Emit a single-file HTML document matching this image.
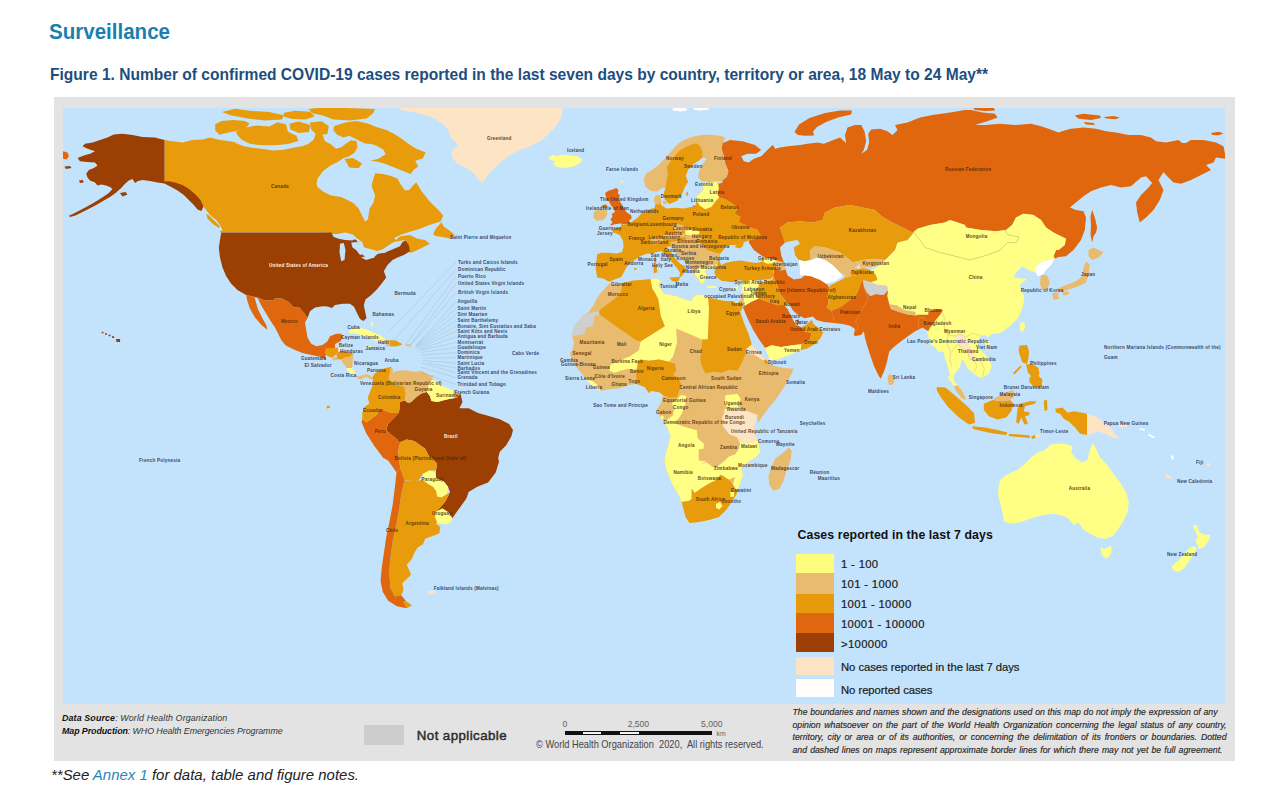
<!DOCTYPE html>
<html lang="en">
<head>
<meta charset="utf-8">
<title>Surveillance - Figure 1</title>
<style>
html,body{margin:0;padding:0;background:#fff;}
body{width:1288px;height:806px;position:relative;overflow:hidden;font-family:"Liberation Sans",sans-serif;}
.abs{position:absolute;white-space:nowrap;transform-origin:0 0;}
#h1{left:49.4px;top:19px;font-size:22.4px;line-height:26px;font-weight:bold;color:#1b7fae;transform:scaleX(0.917);}
#cap{left:49.9px;top:64.7px;font-size:15.7px;line-height:20px;font-weight:bold;color:#1d4e7e;transform:scaleX(0.992);}
#frame{position:absolute;left:53.5px;top:97.3px;width:1181.7px;height:663.5px;background:#e3e3e3;}
#map{position:absolute;left:63px;top:108px;width:1162px;height:596px;background:#c3e3fc;overflow:hidden;}
#map svg{position:absolute;left:-63px;top:-108px;}
#foot{left:51px;top:764px;font-size:15.4px;line-height:22px;font-style:italic;color:#222;transform:scaleX(0.972);}
#foot span{color:#2a86b8;}
.lg{font-size:11.3px;line-height:14px;color:#1a1a1a;letter-spacing:0.33px;-webkit-text-stroke:0.2px #1a1a1a;}
.lg.t{letter-spacing:-0.05px;}
.sw{position:absolute;left:796px;width:38px;}
.src{font-size:8.9px;line-height:10px;font-style:italic;color:#333;}
.src b{color:#111;}
.dis{font-size:8.7px;line-height:10px;font-style:italic;color:#262626;width:434px;white-space:normal;text-align:justify;text-align-last:justify;-webkit-text-stroke:0.15px #262626;}
svg text{font-family:"Liberation Sans",sans-serif;font-size:4.6px;font-weight:bold;fill:#4a2a08;opacity:.85;letter-spacing:0.2px;}
svg text.w{fill:#fff;opacity:.95;}
svg text.s{fill:#1c2c50;}
</style>
</head>
<body>
<div id="h1" class="abs">Surveillance</div>
<div id="cap" class="abs">Figure 1. Number of confirmed COVID-19 cases reported in the last seven days by country, territory or area, 18 May to 24 May**</div>
<div id="frame"></div>
<div id="map">
<svg width="1288" height="806" viewBox="0 0 1288 806">
<g id="land">
<path fill="#fde4c5" d="M400 107.5L562.5 107.5L562.5 112.5L560 120L555 127.5L547.5 135L540 141.2L530 146.2L520 150L512.5 153.8L505 158.8L497.5 165L491.2 171.2L486.2 177.5L482.5 183L478.8 180L475 175L470 170L462.5 166.2L456.2 162.5L452.5 157.5L451.2 152.5L453.8 148.8L457.5 146.2L456.2 142.5L452.5 140L450 135L447.5 128.8L442.5 123.8L435 118.8L425 115L412.5 112L400 110Z"/>
<path fill="#ffff85" d="M548.8 157.5L552.5 155L557.5 156.2L562.5 154.5L570 155.5L577.5 156.2L582.5 159.5L580 163L573.8 166.2L565 168L557.5 167L553 163.8L556.2 161.2L550 160Z"/>
<path fill="#e89c0c" d="M164.5 140L172.5 141.2L182.5 142.5L192.5 140L202.5 139.5L210 137.5L220 140L230 141.2L240 143L224.3 141.3L233.6 142.2L243 145.9L252.3 147.8L261.6 148.7L272.8 150.6L283.9 149.7L293.3 147.8L302.6 145.9L308.2 144.1L313.8 139.4L315.6 133.8L319.3 132L323.1 135.7L324.9 141.3L330.5 144.1L336.1 148.7L341.7 146.9L345.4 144.1L351 140.3L356.6 141.3L357.5 146.9L354.8 152.4L349.2 156.2L343.6 158L338 161.8L330.5 165.5L323.1 171.1L317.5 178.5L316.6 184.1L317.5 186.9L323.1 191.6L330.5 195.3L341.7 197.2L352.9 202.8L358.5 208.3L362.2 215.8L365 221.4L367.8 219.5L369.7 208.3L373.4 202.8L375.2 195.3L371.5 186L373.4 178.5L375.2 173.3L382.7 173.9L390.2 175.7L397.6 178.5L400.4 184.1L405.1 190.6L409.7 189.7L412.5 186L416.2 182.3L421.8 191.6L429.3 200.9L438.6 210.2L443.3 215.8L440.5 221.4L429.3 225.1L420 228.8L410.7 231.6L401.3 234.4L393.9 238.2L396.2 240L400 236.2L410 235L417.5 238.8L425 240L430 243.8L422.5 247.5L415 251.2L410 253L407.5 247.5L405 240L393.9 241.9L388.3 245.6L382.7 249.3L377.1 251.2L371.5 249.3L364.1 247.5L362.2 241.9L356.6 238.2L352.9 234.4L345.4 232.6L334.3 234.4L330.5 234.4L326.8 232.6L315.6 232.2L218.7 232.2L222.5 230L220 225L216.2 220L210 215L206.2 210L202.5 205L200 207.5L196.2 203.8L191.2 198.8L186.2 193.8L180 188.8L172.5 184.5L164.5 182ZM215.2 124.3L221.5 121.1L233.9 120.1L244.4 121.1L249.6 123.2L246.4 127.4L238.2 130.5L227.6 132.7L219.3 134.7L215.2 130.5ZM235.8 131.7L246.2 127.4L256.8 125.4L269.2 126.4L277.6 122.3L285.9 124.3L288 131.7L296.4 135.8L298.4 141L288 144.1L275.5 145.2L262.9 145.2L250.5 144.1L242.1 140L237.9 135.8ZM222 112L234.9 108.8L252 111L269.2 112L284.1 115.3L282 119.5L264.8 120.6L247.7 118.5L230.5 115.3ZM283.4 112.9L294.5 110.7L310.3 111.8L314.7 116.3L305.7 119.6L292.4 119.1L284.5 117ZM308.4 109.1L325.1 107L345.9 108.1L375.1 109.1L373.1 113.3L366.8 118.6L350.1 120.6L333.5 119.6L322.9 115.4L312.5 113.3ZM289.4 123.8L298.8 121.4L310.4 124.9L309.1 131.9L298.8 133.1L290.5 129.6ZM310 122.5L321.7 121.2L328.7 126L327.5 134.1L317 135.2L311.2 129.5ZM334.3 126L345.4 122.6L356.6 121.1L367.8 123.6L377.1 127.3L386.4 130.1L393.9 133.8L401.3 138.5L408.8 144.1L416.2 148.7L425.6 152.4L422.8 158.4L415.3 160.8L418.1 166.4L413.4 170.1L410.7 173.9L402.3 170.7L393 167L383.6 163.3L376.2 161.4L370.6 160.8L379 158.4L385.5 154.3L383.6 149.7L377.1 145.9L371.5 144.1L365 143.5L360.3 141.3L354.8 138.5L349.2 135.7L343.6 137.5L337 134.7L333.3 130.1ZM344.5 159L352.9 158L362.2 163.6L358.5 168.3L349.2 167.4ZM441.4 222.3L444.2 227L449.8 230.7L454.4 234.4L451.6 239.1L444.2 237.2L436.7 236.3L433 234.4L435.8 228.8ZM206.2 213.8L210 216.2L216.2 222.5L220 226.2L218.8 228L212.5 223.8L207.5 218.8Z"/>
<path fill="#9b3f03" d="M164.5 140L155 137.5L142.5 137L132.5 135L122.5 133.8L113.8 134.5L107.5 137.5L100 140L92.5 142.5L85 143.8L82.5 146.2L87.5 148.8L91.2 150L95 151.2L90 153.8L83.8 155.5L77.5 158L80 161.2L87.5 162L95 162.5L97.5 165.5L93.8 168L88.8 170L86.2 173.8L87.5 177.5L90 180.5L95 182.5L97.5 185.5L101.2 184.5L106.2 185.5L110 187L112.5 189L108.8 193L103 197L97.5 200.5L92 203.8L86.2 207L80 210.2L73.8 213.5L68.8 215.8L70 217L75.5 215.5L82.5 212L89.5 208.5L96.2 205L103 201L110 197L116.2 192.5L121.2 188L125 183.8L128.8 180.5L132.5 179L135 183L138 181L142.5 180L150 181L157.5 182.5L164.5 183.5L171.2 187L177.5 190.5L183.8 195L188.8 200L193.8 205L197.5 209.5L201.5 211L203.5 206.5L200.5 200L195.5 194.5L189 189L182.5 185L175 182.5L168.8 181.2L164.5 181.5ZM120 193L125.5 192L127.5 194.5L122.5 196.5ZM64.5 166.5L70 166L71.5 168L66 169ZM79 180.5L83 180L83.5 182.5L80 183Z"/>
<path fill="#e0670d" d="M63 151.2L67.5 152.5L69 156.2L66.5 159.5L63 158.8Z"/>
<path fill="#9b3f03" d="M221.2 232.5L331.2 232.5L335 235.5L342.5 238L350 237.5L356.2 240L360 245L363.8 251.2L362.5 255L367.5 257.5L375 256.2L378.8 253L386.2 252L391.2 250L400 246.2L402.5 242L405.5 240.5L408.8 245L410 251.2L403.8 255L397.5 257.5L392.5 260L387.5 265L383.8 271.2L386.2 277.5L382.5 282.5L377.5 288.8L371.2 295L365.5 299.5L363.8 305L365 311.2L366.5 318L363.5 321L360 319L357 313L354 306.8L350 303.8L342.5 303.8L335 305L332 308L327.5 306.5L322.5 306.2L315 307.5L310 311.2L307.5 318L303.8 312.5L298.8 307L293.8 307.5L288.8 302L282.5 298.8L275 298L273.8 300.5L265 300.5L257.5 297.5L246.2 295L237.5 290L231.2 283.8L226.2 276.2L222.5 267.5L220 257.5L218.8 247.5L220 240Z"/>
<path fill="#c3e3fc" d="M331.8 233.8L340 234.5L350 235.5L356.2 238L352.5 240.5L345 240L338.8 238.8L333.8 237ZM340 243.8L343.8 243L345.5 250L344.5 260L341.2 261.2L339.5 252.5ZM351.2 242.5L357.5 242L363.8 247.5L365 253.8L360 255L356.2 250L352.5 247.5ZM361.2 257.5L367.5 255.5L375 255L374.5 257.5L366.2 260ZM376.2 251.2L385 250L386.2 252.5L378 253.8Z"/>
<path fill="#e0670d" d="M246.2 295L257.5 297.5L265 300.5L273.8 300.5L275 298L282.5 298.8L288.8 302L293.8 307.5L298.8 307L303.8 312.5L307.5 318L305 322.5L306.2 330L307.5 337.5L311.2 343.8L316.2 346.2L322.5 345L327.5 341.2L330 336.2L336.2 333.8L341.2 333.8L343 337L340.5 341.2L337 343L335 344.2L335 348.8L330 350L326.2 353.8L325 359L318.8 356.5L311.2 355L302.5 353L293.8 349.5L285.8 345.5L281.5 340.5L278.8 335L275 327.5L270 320L265.5 312.5L261 305L258 298.5L254.5 297L257.8 308.8L262 317.5L266.2 325L267.5 330L261.5 325L254.8 317.2L249.8 308.2L247.2 300.5Z"/>
<path fill="#e89c0c" d="M325.6 348.4L338 347.4L338 352L336.5 354.3L331.8 357.8L327.2 355.9L324.8 352.8Z"/>
<path fill="#fde4c5" d="M338.2 345L340.7 344.7L340.7 350.5L338.2 351.6Z"/>
<path fill="#e89c0c" d="M338 352L341.9 351.2L348.1 352L353.6 353.6L350.5 356.7L345 357.8L341.1 359.8L337.3 359L336.5 354.3Z"/>
<path fill="#e9bb6e" d="M331.1 357.8L336.5 357.1L337.6 359.8L333.4 360.6ZM341.1 359.8L345 357.8L350.5 356.7L353.6 353.6L352.8 360.6L352 368.3L346.6 368L343.5 363.7Z"/>
<path fill="#ffff85" d="M346.6 368L352 368.3L355.1 373L354.3 375.3L350.5 373.8L347.4 370.7Z"/>
<path fill="#e9bb6e" d="M354.7 374.8L358.2 376.4L362.1 375.3L366.8 374.2L370.7 375.8L373 378.4L370.7 379.5L367.5 377.3L363.7 377.6L361.3 379.5L357.5 378.4Z"/>
<path fill="#ffff85" d="M349.1 330.7L354.3 328.1L362.4 328.4L369.1 330.6L375.3 333.5L381.5 336L385.1 338.8L383.9 341.3L378.4 341.3L373 339.8L369.3 338.2L364.6 336.6L359.9 334.5L354.3 333.5L349.7 333.2ZM366.5 346.3L370.7 346L372.7 347.5L369.1 348.1Z"/>
<path fill="#e9bb6e" d="M383.9 340.7L389.8 340.1L389.8 346.3L384.6 346.3L387 344.3L384.2 343.2Z"/>
<path fill="#e89c0c" d="M389.8 340.1L396.3 340.7L402.5 344.3L397.8 346.3L393.2 346.6L389.8 346.3Z"/>
<path fill="#e9bb6e" d="M405.9 344.4L410.9 344.4L410.9 346.3L405.9 346.3Z"/>
<path fill="#ffff85" d="M370.7 321.7L372.2 321.4L373 325.6L371.4 326.1Z"/>
<path fill="#9b3f03" d="M101.6 331.87L103.4 331.87L103.49 333.22L101.78 333.22ZM105 333.3L107 333.3L107.1 334.8L105.2 334.8ZM108.5 334.8L110.5 334.8L110.6 336.3L108.7 336.3ZM111.9 336.23L114.1 336.23L114.21 337.88L112.12 337.88ZM116 339.1L120 339.1L120.2 342.1L116.4 342.1ZM399.6 402.1L405 400.6L408.1 402.9L411.2 402.1L415.9 397.5L421.3 393.6L426.8 392L429.9 395.9L431.4 400.9L437.6 402.1L443.9 400.2L450.1 398.7L453.9 398.2L459.4 393.6L460.6 394.3L462.5 402.1L459.4 408.3L468.7 408.3L478 413L488.9 416.1L499.8 419.2L509.1 423.9L513 430.1L511.4 436.3L506 445.6L499.8 451.8L498.2 458L499 461.7L495.7 472.6L488.1 482.4L477.3 486.7L468.6 492.1L466.4 498.6L457.7 510.6L452.3 518.2L449 512.8L442.5 508.4L436 511.7L440.4 507.3L445.8 500.8L450.1 492.1L448 486.7L443.6 481.3L436 478L436 470.4L437.1 463.9L431.7 457.4L429.9 458L425.2 448.7L414.3 440.9L406.6 439.4L399.6 442.5L397.3 439.4L391.1 434.7L386.4 430.1L388 423.9L398.8 413L399.6 408.3Z"/>
<path fill="#e0670d" d="M362.3 419.2L361.6 422.3L366.2 433.2L374 445.6L383.3 458L388.2 460.6L394.3 469.3L396.5 472.6L400.4 468.7L399.1 459.5L398.2 450.9L400.2 442.2L399.6 442.5L397.3 439.4L391.1 434.7L386.4 430.1L388 423.9L398.8 413L391.1 413L383.3 409.9L379.4 408.3L377.1 414.5L370.9 419.2L366.2 422.3Z"/>
<path fill="#e89c0c" d="M362.3 413L364.7 406.8L369.3 403.7L374 403.7L379.4 408.3L377.1 414.5L370.9 419.2L366.2 422.3L362.3 419.2ZM369.3 403.7L367.8 397.5L370.9 389.7L373.2 383.5L372.4 377.3L374.8 373.4L383.3 368.7L391.1 366.7L390.3 371.1L388.7 378.8L395.7 384.3L404.3 386.6L405.8 392.8L405 400.6L399.6 402.1L399.6 408.3L398.8 413L391.1 413L383.3 409.9L379.4 408.3L374 403.7Z"/>
<path fill="#e9bb6e" d="M391.1 366.7L390.3 371.1L388.7 378.8L395.7 384.3L404.3 386.6L405.8 392.8L405 400.6L408.1 402.9L411.2 402.1L415.9 397.5L421.3 393.6L426.8 392L428.3 386.6L429.9 382.7L433 378.8L428.3 374.2L422.1 371.1L414.3 371.8L406.6 370.3L395.7 371.1L392.6 373.4L393.4 369.5Z"/>
<path fill="#ffff85" d="M429.9 381.9L433 379.6L437.6 384.3L443.9 386.6L453.2 390.5L453.9 398.2L450.1 398.7L443.9 400.2L437.6 402.1L431.4 400.9L429.9 395.9L426.8 392L428.3 386.6Z"/>
<path fill="#e9bb6e" d="M453.2 390.5L457 392L460.2 393.6L457 397.8L453.9 398.2Z"/>
<path fill="#e89c0c" d="M399.6 442.5L406.6 439.4L414.3 440.9L425.2 448.7L429.9 458L431.7 457.4L437.1 463.9L436 470.4L429.5 470.4L423 473.7L418.6 480.2L413.2 481.3L406.7 480.2L404.5 480.2L400.4 468.7L399.1 459.5L398.2 450.9L400.2 442.2Z"/>
<path fill="#ffff85" d="M423 473.7L429.5 470.4L434.9 472.6L436 478L443.6 481.3L448 486.7L446.9 494.3L441.4 497.6L437.1 496.5L436 491L432.8 486.7L427.3 483.4L423 480.2ZM436 511.7L442.5 508.4L449 512.8L452.3 518.2L450.1 523L443.6 524.3L437.1 522.5L434.9 517.1Z"/>
<path fill="#e89c0c" d="M404.5 480.2L413.2 481.3L418.6 480.2L423 480.2L427.3 483.4L432.8 486.7L436 491L437.1 496.5L441.4 497.6L446.9 494.3L450.1 492.1L445.8 500.8L440.4 507.3L436 511.7L434.9 517.1L437.1 522.5L436 523.6L440.4 526.9L439.3 533.4L433.8 535.6L425.2 538.8L423 544.3L417.6 547.5L414.3 552.9L412.1 558.4L406.7 564.9L408.9 569.2L411 574.7L406.7 579L402.4 583.3L403.4 589.9L401.3 595.3L394.8 596.4L390.4 587.7L389.3 572.5L390.4 557.3L392.6 542.1L395.8 526.9L399.1 509.5L401.3 494.3ZM405.6 600.7L412.1 605.5L406.7 608.3L403.4 601.8Z"/>
<path fill="#e0670d" d="M396.5 472.6L400.4 468.7L404.5 480.2L401.3 494.3L399.1 509.5L395.8 526.9L392.6 542.1L390.4 557.3L389.3 572.5L390.4 587.7L394.8 596.4L401.3 595.3L405.6 600.7L403.4 601.8L406.7 608.3L396.9 606.2L388.2 600.7L382.8 592L380.6 581.2L381.7 568.1L383.9 552.9L386.1 537.7L389.3 522.5L392.6 505.2L394.8 487.8Z"/>
<path fill="#fde4c5" d="M427.3 591L434.9 590.5L435.6 593.8L428.4 594.2Z"/>
<path fill="#e9bb6e" d="M430.7 375.4L433 375.1L433 377L430.8 377.3Z"/>
<path fill="#e89c0c" d="M326.5 406L329.5 405.6L330 408L327 408.6Z"/>
<path fill="#e0670d" d="M721.2 143.8L730 140L742.5 141.2L755 145L761.2 150L756.2 153.8L747.5 153.8L741.2 156.2L743.8 161.2L748.8 162.5L753.8 158.8L761.2 156.2L766.2 151.2L771.2 146.2L773 145L775 148.8L780 147.5L787.5 146.2L800 145L807.5 143.8L817.5 142.5L823.8 143.8L830 141.2L840 137.5L845 142L846.2 143.8L845 135L847.5 127.5L855 125L861.2 125L864.5 131.2L866.2 141.2L863.8 150L861.2 153.8L867 150L869.2 142.5L868.2 133.8L871.2 129.5L880 128.8L887.5 131.2L892.5 135L897.5 130L895 125L907.5 122.5L920 117.5L932.5 115L950 112.5L965 110L971.2 110L982.5 112.5L995 113.8L997.5 117.5L987.5 121.2L975 125L985 125L1000 123.8L1015 125L1031 123.8L1041 126.2L1048.5 128.8L1058.5 132.5L1066 130L1071 128.8L1083.5 127.5L1096 128.8L1106 131.2L1116 132.5L1128.5 135L1141 135L1151 137.5L1156 141.2L1166 142.5L1178.5 140L1182.2 143L1186 143L1191 140L1203.5 140L1216 142.5L1223.5 146.2L1225 153.8L1225 158.8L1216 157.5L1213.5 162.5L1206 165L1211 170L1201 175L1191 180L1181 183.8L1173.5 182.5L1166 175L1163.5 172L1158.5 180L1163.5 190L1159.8 200L1153.5 210L1146 217.5L1139.8 222.5L1137.2 212.5L1136 202.5L1141 195L1148.5 187.5L1152.2 183L1146 176.2L1141 177.5L1131 186.2L1121 187.5L1111 185L1101 187.5L1091 191.2L1083.5 196.2L1076 202.5L1069.8 207.5L1076 210L1083.5 211.2L1086 217.5L1084.8 230L1081 240L1073.5 250L1066 256.2L1058.5 257L1054.8 258.8L1053.5 256.2L1056 250L1058.5 250L1064.8 245L1066 238.8L1061 236.2L1053.5 232.5L1046 227.5L1041 220L1033.5 215L1023.5 213.8L1016 217.5L1012.2 225L1006 230L996 231.2L981 230L966 227.5L965 225L950 220L945 222.5L930 225L917.5 228.8L912.5 232.5L907.5 230L897.5 225L887.5 220L880 215L875 210L862.5 207.5L850 205L835 207.5L825 212.5L822.5 220L812.5 222.5L800 221.2L787.5 222.5L780 227.5L782.5 235L785 242.5L780 247.5L781.2 255L783.8 262.5L775 260L765 257.5L762.5 256.2L753.8 250L748.8 242.5L751.2 235L750 228.8L742.5 225L735 220L727.5 210L739.3 216.3L734.6 213.2L737.7 208.5L733 203.9L725.3 199.2L719.1 197.6L717.5 194.5L718.3 188.3L719.1 183.7L723.7 182.1L721.4 181.3L726.8 176.7L728.4 171.2L725.3 163.5L723.7 155.7L721.4 148L723 141.7L725.3 137.9ZM794.5 132L799 124.5L809.5 118L825 113L840 110.5L852 110.5L851 114.5L838 117.5L826 122L817 127L813 131.5L814 135.5L805 135.8L798 135ZM1092.2 210L1094.8 217.5L1097.2 227.5L1096 232.5L1093.5 236.2L1092.2 242.5L1090.5 235L1091 225L1090.5 216.2ZM1074.8 115.5L1083.5 113.8L1099.8 115.5L1101 118L1091 120L1078.5 118.8ZM1104 117L1113.5 116L1119.8 117.5L1116 119.2L1106 118.5ZM1083.5 122L1093.5 123L1094.8 125L1086 124.5ZM1211 133L1218.5 131.8L1223.5 133.2L1219 135.2L1212.2 135ZM972.5 107L982.5 105.5L993.8 107.5L995 110.5L985 111L975 110ZM692.7 205.7L698.9 205.1L699.7 207.7L693.4 208.5Z"/>
<path fill="#e9bb6e" d="M650.7 190.7L645.3 186.8L643.8 179L646.1 173.6L652.3 169.7L658.5 165L664.7 158.8L669.4 153.4L674 148L678.7 143.3L684.9 139.4L694.2 136.3L703.5 134.8L712.9 134.8L722.2 136.3L725.3 137.9L723 141.7L721.4 148L723.7 155.7L725.3 163.5L728.4 171.2L726.8 176.7L721.4 181.3L716 180.9L709.8 182.1L702 181.3L698.1 177.5L698.9 171.2L702 165L706.6 158.8L702.8 157.3L698.9 160.4L694.2 163.5L688 169.7L685.7 175.9L688 182.1L684.9 186.8L681.8 194.5L677.1 200.7L669.4 203.9L664.7 199.2L663.9 193L665.5 188.3L663.2 187.5L657 191.4Z"/>
<path fill="#e89c0c" d="M669.4 203.9L677.1 200.7L681.8 194.5L684.9 186.8L688 182.1L685.7 175.9L688 169.7L694.2 163.5L698.9 160.4L702.8 157.3L702 151.1L700.4 146.4L696.6 143.3L691.1 144.8L684.9 147.2L680.2 150.3L675.6 154.9L670.9 161.1L667 166.6L667.8 174.3L666.3 182.1L665.5 188.3L663.9 193L664.7 199.2ZM686.1 192.7L688 191.7L688.3 195.3L686.5 196.1Z"/>
<path fill="#e0670d" d="M616.2 188L618.5 189.9L617.7 193.6L620 195.1L618.5 198.8L620 201.8L622.2 204.8L623.7 208.5L626.7 212.2L631.1 215.2L631.7 218.2L628.9 221.1L629.6 223.4L625.2 224.3L620 223.5L614.8 224.3L609.9 225.7L612.5 221.9L610.3 219.6L612.5 216.7L611.8 213.7L614.8 212.2L614 208.5L611 205.5L609.6 202.5L607.3 200.3L605.8 196.6L605.1 192.9L608.8 190.6L612.5 189.5ZM602.3 205.1L606.2 204.6L607.5 207L605.8 208.6L602.5 208.3Z"/>
<path fill="#e9bb6e" d="M602.1 208.5L606.6 210L607.3 213.7L605.8 217.4L602.1 220.4L596.2 220.4L593.2 217.4L593.9 212.2L597.6 209.2Z"/>
<path fill="#e0670d" d="M621.3 181.2L622.4 181.2L622.4 182.3L621.3 182.3Z"/>
<path fill="#ffff85" d="M620.9 180.9L622.8 180.6L623.1 182.4L621.2 182.7Z"/>
<path fill="#e89c0c" d="M656.2 195.3L660.1 196.1L660.8 200.7L660.8 204.6L666.3 208.5L675.6 207.7L683.4 208.5L691.1 207L695.8 206.2L696.6 200.7L696.6 196.1L700.4 193L703.5 189.1L702 185.2L705.1 182.9L717.5 182.1L719.1 183.7L718.3 188.3L717.5 194.5L719.1 197.6L725.3 199.2L733 203.9L737.7 208.5L734.6 213.2L739.3 216.3L740.8 215.5L739.3 221.7L748.6 226.4L757.9 229.5L761 235.7L753.2 239.6L748.6 240.7L743.9 242.2L742.7 246.6L739.3 248.4L734.6 246.9L736.9 245L733 245L726.8 245L723.7 249.7L719.8 254.3L719.1 260.6L721.4 265.2L717.5 267.1L712.9 268.6L708.2 268.6L705.4 271.4L707 276.1L705.1 280.7L702 284.2L700.1 282.3L697.3 277.6L694.2 274.5L692.7 269.9L689.6 265.2L683.4 260.6L677.1 254.3L672.5 249.7L670.9 246.6L667 246.6L669.4 250.5L672.5 254.3L675.6 259L680.2 263.7L685.2 266.5L684.9 268.3L689.6 272.7L688 271.1L684.9 271.7L681.8 276.1L679.9 277.6L677.5 280.3L679 277.6L680.2 273L677.1 268.3L673.3 263.7L669.4 259L664.7 254.3L661.6 251.2L657 252L652.3 253.6L647.6 253.6L643 255.1L639.1 256.7L635.2 259.8L631.3 262.1L626.7 266.8L624.3 271.4L621.2 276.9L615 279.2L609.6 281.7L607.3 280.7L603.4 278.4L597.2 277.6L596.4 273L595.6 266.8L596.4 260.6L597.2 254.3L601.1 252.8L608.8 252.8L616.6 253.6L622 252L623.6 246.6L622.8 240.4L619.7 234.9L613.5 232.6L611.1 229.5L615 228.7L621.2 227.2L621.2 223.6L623.6 224.8L629 223.3L635.2 219.4L638.3 217.1L643 211.6L647.6 210.1L654.6 207.7L655.4 203.9L653.9 199.2Z"/>
<path fill="#ffff85" d="M705.1 182.9L717.5 182.1L718.8 188.3L717.5 194.5L719.1 197.6L716 200.7L711.3 207L705.1 209.3L699.7 205.4L696.6 200.7L696.6 196.1L700.4 193L703.5 189.1L702 185.2Z"/>
<path fill="#e9bb6e" d="M656.2 195.3L660.1 196.1L660.8 200.7L659.3 204.6L655.4 203.9L653.9 199.2ZM662.4 201.1L666.6 200.7L667 203.9L663.2 204.2ZM671.7 225.6L678.7 224.1L685.7 226.4L689.6 228.7L684.9 231.1L678.7 231.8L674 230.3Z"/>
<path fill="#ffff85" d="M684.9 231.1L689.6 229.5L698.9 231.1L699.7 233.4L692.7 235.7L685.7 234.9Z"/>
<path fill="#e9bb6e" d="M663.2 234.9L670.9 233.4L678.7 232.6L684.9 233.4L685.7 236.5L678.7 238.8L670.9 238.8L663.2 238ZM685.7 235.7L692.7 235.7L700.4 234.2L703.5 237.3L698.9 241.1L691.1 242.7L685.7 240.4ZM650.7 239.6L657 238L663.2 238.8L662.4 242.7L654.6 244.3L650.7 242.7ZM670.9 241.9L678.7 240.4L685.7 240.7L691.1 243L698.9 241.6L703.5 245L706.6 249.7L712.9 252L719.8 253.6L719.4 260.6L717.5 263.7L712.1 265.2L706.6 266L702 266.8L697.3 268.3L694.2 274.5L692.7 269.9L689.6 265.2L683.4 260.6L677.1 254.3L672.5 249.7L670.6 246.6Z"/>
<path fill="#ffff85" d="M694.2 274.5L697.3 268.3L702 267.1L706.6 266L712.1 265.2L717.5 264L717.5 267.1L712.9 268.6L708.2 268.6L705.4 271.4L707 276.1L705.1 280.7L702 284.2L700.1 282.3L697.3 277.6Z"/>
<path fill="#e89c0c" d="M653.9 257.8L655.9 257.1L656.3 262.9L654.5 264ZM653.2 264.9L656.6 264.4L657.3 272.2L653.9 273.3ZM669.4 277.6L678.7 276.9L679.6 279.2L677.1 282.3L671.7 280.7Z"/>
<path fill="#ffff85" d="M706.6 286.3L716 285.9L716.3 287.7L707.4 288.2ZM731.5 287.7L738.5 286.3L737.7 289.3L732.7 290.1Z"/>
<path fill="#e89c0c" d="M634 268.3L636.5 268L636.8 269.6L634.3 269.9Z"/>
<path fill="#ffffff" d="M672 106L686 106L687 110.6L680 111.4L673 110.4ZM693 106L708 106L709 109.6L700 110.4L694 109.8Z"/>
<path fill="#e9bb6e" d="M608.8 283.9L616.6 284.6L622.8 283.1L632.1 280.7L641.4 280L650.7 279.2L654.6 278.4L659.3 279.2L660.8 280L658.5 285.4L661.6 290.1L663.2 293.2L669.4 294.7L677.1 296.3L684.9 299.4L691.1 300.9L694.2 296.3L695.8 294.7L702 294.7L708.2 297L716 299.4L725.3 300.9L733 300.9L736.9 304L739.7 310.2L743.7 322.3L748.7 334.4L751.8 344.5L758.8 352.6L765.9 359.6L767.9 361.7L770.9 364.7L782 367.7L793.2 368.7L794.2 367.7L790.1 376.8L784.1 386.9L776 399L767.9 409.1L761.9 417.2L757.8 423.2L757.3 414.1L752.2 420.2L754.2 426.2L755.2 434.3L757.3 440.4L759.3 445.4L760.3 452.5L755.2 457.5L747.2 462.6L741.1 468.6L743.1 474.7L741.1 480.7L738.1 488.8L736.1 494.9L731 503L726 510L718.9 517.1L708.8 520.1L698.7 522.1L689.6 523.1L685.6 517.1L683.6 509L681.6 501.9L678.5 494.9L672.5 484.8L667.4 472.7L664.4 462.6L665.4 454.5L668.4 444.4L670.5 436.3L667.4 428.3L663.4 420.2L660.4 418.2L656.3 408.1L656.9 409.1L655.9 411.1L660.9 403L663 395L658.9 391.9L650.8 390.9L648.8 393L644.8 386.9L636.7 383.9L628.6 384.9L620.6 387.9L610.5 388.9L600.4 390.9L598.4 389.9L590.3 383.9L584.2 376.8L579.2 370.7L575.1 364.7L571.1 358.6L570.1 352.6L572.1 350.6L574.1 342.5L572.1 336.4L574.1 326.3L584.2 314.2L584 318L588.6 311.8L593.3 305.6L596.4 299.4L600.3 293.2L604.9 288.5Z"/>
<path fill="#e89c0c" d="M736.9 304L739.3 301.7L741.6 299.4L742.7 307.1L740.8 311.8Z"/>
<path fill="#cfcfcf" d="M585.2 313.8L599.4 311.2L599.4 315.2L594.3 316.2L593.3 326.3L586.2 327.3L584.2 334.4L572.5 336L574.1 326.3Z"/>
<path fill="#e89c0c" d="M599.4 310.2L610.5 302.1L620.6 294L622.8 283.1L632.1 280.7L641.4 280L650.7 279.2L651.5 283.9L652.3 288.5L655.4 293.2L658.5 299.4L660.9 316.2L665 326.3L648.8 336.4L640.7 341.5L636.7 340.5L620.6 329.4L599.4 314.2Z"/>
<path fill="#ffff85" d="M650.7 279.2L654.6 278.4L659.3 279.2L660.8 280L658.5 285.4L661.6 290.1L663.2 293.2L660.8 295.5L658.5 299.4L655.4 293.2L652.3 288.5L651.5 283.9ZM663.2 293.2L669.4 294.7L677.1 296.3L684.9 299.4L691.1 300.9L694.2 296.3L695.8 294.7L702 294.7L708.2 297L709 308.7L708.5 324.2L707.8 339.5L702.3 339.5L676.1 328.4L665 326.3L660.9 316.2L658.5 299.4L660.8 295.5ZM640.7 341.5L648.8 336.4L665 326.3L676.1 328.4L677.1 342.5L673 356.6L669 361.7L658.9 359.6L648.8 360.7L640.7 359.6L636.7 362.7L629.6 356.6L638.7 350.6ZM609.5 370.7L610.5 364.7L618.5 360.7L629.6 356.6L636.7 362.7L639.7 366.7L632.7 370.7L628.6 368.7L620.6 370.7L614.5 372.8Z"/>
<path fill="#e89c0c" d="M637.7 362.7L640.7 359.6L648.8 360.7L658.9 359.6L669 361.7L675.1 363.7L676.1 370.7L673 374.8L679.1 378.8L681.1 384.9L679.1 390.9L677.1 397L669 398L663 395L658.9 391.9L650.8 390.9L648.8 393L644.8 386.9L636.7 383.9L636.3 374.8Z"/>
<path fill="#ffff85" d="M586.2 379.8L592.3 380.8L599.4 386.9L600.4 390.9L598.4 389.9L590.3 383.9Z"/>
<path fill="#e89c0c" d="M708.2 297L716 299.4L725.3 300.9L733 300.9L736.9 304L739.7 310.2L743.7 322.3L748.7 334.4L751.8 344.5L746.7 348.5L744.7 356.6L741.7 362.7L737.6 370.7L729.6 369.7L721.5 372.8L713.4 371.8L705.3 373.2L701.3 364.7L700.3 358.6L701.3 350.6L702.3 339.5L707.8 339.5L708.5 324.2L709 308.7Z"/>
<path fill="#fde4c5" d="M751.8 344.5L758.8 352.6L765.9 359.6L762.9 360.2L753.8 354.6L746.7 354.2L746.7 348.5Z"/>
<path fill="#e89c0c" d="M765.9 359.6L767.9 361.7L768.9 364.3L764.9 363.7L763.9 360.7Z"/>
<path fill="#ffff85" d="M725.5 395L737.6 394L740.7 399L737.6 407.1L727.5 408.1L724.5 403ZM724.5 409.1L730.6 409.1L731.6 419.2L725.5 419.2Z"/>
<path fill="#c3e3fc" d="M731.6 408.1L739.7 407.1L741.7 413.1L735.6 416.2L731.6 413.1Z"/>
<path fill="#ffff85" d="M672 403L676.1 400L681.1 395L686.2 396L685.2 405.1L682.1 413.1L678.1 419.2L670 424.2L665 423.2L668 419.2L673 415.2L674.1 409.1Z"/>
<path fill="#fde4c5" d="M725 411.1L733 408.1L745.2 410.1L757.3 415.1L754.2 426.2L755.2 434.3L757.3 440.4L745.2 443.4L739.1 440.4L737.1 437.3L729 434.3L723 426.2L721.9 418.2Z"/>
<path fill="#ffff85" d="M663.4 420.2L670.5 421.2L682.6 426.2L696.7 430.3L697.7 438.4L703.8 443.4L703.8 448.4L698.7 449.5L698.7 460.6L689.6 462.6L664.8 463.6L664.4 462.6L665.4 454.5L668.4 444.4L670.5 436.3L667.4 428.3ZM660.4 416.1L663.4 415.7L663.4 419.2L661 419.2ZM664.8 463.6L689.6 462.6L698.7 460.6L706.8 461.6L699.7 464.6L695.7 466.6L694.7 480.7L691.7 481.8L691.7 498.9L688.6 500.9L681.6 501.9L678.5 494.9L672.5 484.8L667.4 472.7ZM695.7 466.6L699.7 464.6L706.8 462.6L714.9 468.6L720.9 474.7L714.9 480.7L708.8 483.8L700.7 488.8L694.7 492.9L691.7 488.8L691.7 481.8L694.7 480.7ZM714.9 468.6L725 460.6L735.1 462.6L738.1 468.6L735.1 476.7L729 479.7L720.9 474.7ZM738.1 488.8L741.1 480.7L743.1 474.7L741.1 468.6L747.2 462.6L755.2 457.5L760.3 452.5L759.3 445.4L757.3 440.4L745.2 443.4L739.1 440.4L737.1 437.3L740.1 443.4L739.1 448.4L735.1 454.5L729 456.5L725 460.6L735.1 462.6L738.1 468.6L735.1 476.7L733 484.8L736.1 489.8Z"/>
<path fill="#e89c0c" d="M681.6 501.9L688.6 500.9L691.7 498.9L691.7 488.8L694.7 492.9L700.7 488.8L708.8 483.8L714.9 480.7L720.9 474.7L729 479.7L733 484.8L736.1 489.8L738.1 488.8L736.1 494.9L731 503L726 510L718.9 517.1L708.8 520.1L698.7 522.1L689.6 523.1L685.6 517.1L683.6 509Z"/>
<path fill="#ffff85" d="M715.9 504L719.9 501.9L722.5 506L719.3 509.4L716.1 508ZM730.2 492L733.9 491.8L734.3 496.5L730.6 496.9Z"/>
<path fill="#e9bb6e" d="M769.4 484.8L768.4 476.7L771.4 466.6L775.4 458.5L783.5 452.5L788.6 447.4L791.6 450.5L790.6 460.6L786.5 470.7L783.5 480.7L779.5 488.8L773.4 490.8Z"/>
<path fill="#ffff85" d="M913.8 232.5L917.5 228.8L930 225L945 222.5L950 220L965 225L966 227.5L981 230L996 231.2L1006 230L1012.2 225L1016 217.5L1023.5 213.8L1033.5 215L1041 220L1046 227.5L1053.5 232.5L1061 236.2L1066 238.8L1064.8 245L1058.5 250L1056 250L1053.5 256.2L1054.8 258.8L1048.5 260L1041 262.5L1034.8 267.5L1036 272.5L1028.5 270L1022.2 266.2L1016 272.5L1013.5 277.5L1023.5 278.8L1027.2 278.8L1019.8 285L1022.2 292.5L1024.4 295.9L1023.5 303.4L1021.6 310.8L1017.9 318.3L1010.4 325.7L1003 331.3L999.3 333.2L991.8 334.1L988.1 336.9L984.3 335L980.6 336L976.9 342.5L980.6 349.9L986.2 355.5L989.9 361.1L991.8 366.7L988.1 374.2L982.5 377.9L978.8 377L973.2 373.2L967.6 368.6L963.9 361.1L962 359.3L960.1 366.7L954.5 374.2L952.7 381.6L954.5 389.1L951.2 372.5L955 382.5L957.5 385L962.5 391.2L966.2 398.8L963.8 400L960 396.2L956.2 391.2L953.8 386.2L950 380L947.5 373.8L948.9 381.6L949.9 374.2L948 366.7L945.2 359.3L943.4 351.8L937.8 351.8L935.9 348.1L930.3 344.3L928.4 336.9L926.6 329.4L926.6 320.1L941.5 310.8L943.1 309.9L937.5 308.9L928.2 313.6L918.9 316L915.2 314.2L904 309.9L896.5 305.2L889.1 304.3L887.2 295.9L888.1 290.3L888 290.2L872.5 284.5L869.5 275L872.5 270L880 265L885 260L890 255L895 250L897.5 242.5L907.5 240Z"/>
<path fill="#fde4c5" d="M954.5 336L960.1 334.1L965.7 336.9L969.4 344.3L973.2 351.8L974.1 359.3L969.4 359.3L967.6 351.8L962 348.1L957.3 344.3Z"/>
<path fill="#e9bb6e" d="M953.8 386.2L957.5 385L962.5 391.2L966.2 398.8L963.8 400L960 396.2L956.2 391.2Z"/>
<path fill="#ffff85" d="M1020.1 322.9L1024.4 322L1025.3 327.6L1022.5 332.2L1020.1 329.4ZM984.3 342.1L989.6 341.6L989.9 345.3L985.8 346.6Z"/>
<path fill="#e89c0c" d="M780 227.5L787.5 222.5L800 221.2L812.5 222.5L822.5 220L825 212.5L835 207.5L850 205L862.5 207.5L875 210L880 215L887.5 220L897.5 225L907.5 230L913.8 232.5L907.5 240L897.5 242.5L895 250L890 255L885 260L875 258.8L862.5 260L852.5 262.5L850 260L840 252.5L832.5 250L825 247.5L815 246.2L810 250L810 260L805 261.2L798.8 260L795 255L793.8 247.5L800 243.8L797.5 240L790 241.2L785 242.5L782.5 235Z"/>
<path fill="#e9bb6e" d="M810 250L815 246.2L825 247.5L832.5 250L840 252.5L850 260L852.5 262.5L860 263.8L855 267.5L847.5 270L845 275L840 272.5L832.5 265L825 260L817.5 257.5L811.2 260L810 260Z"/>
<path fill="#ffffff" d="M798.8 260L805 261.2L811.2 260L817.5 257.5L825 260L832.5 265L840 272.5L842.5 276.2L835 281.2L825 283.8L817.5 280L807.5 276.2L800 275L800 267.5Z"/>
<path fill="#e9bb6e" d="M852.5 262.5L862.5 260L875 258.8L885 260L880 265L870 267.5L860 267.5L860 263.8ZM843.6 278.8L844.7 274.5L847.7 268L857 267.6L857 270.9L850.7 272L852.4 276.9Z"/>
<path fill="#e89c0c" d="M851.8 276.3L849.9 271.7L855.5 269.8L863 268L870.4 269.8L870.4 272L866.7 273L859.3 274.8Z"/>
<path fill="#ffff85" d="M762.5 256.2L765 257.5L775 260L776.2 263L767.5 263.8L761.2 261.2Z"/>
<path fill="#e9bb6e" d="M775 260L783.8 262.5L786.2 270L781.2 272.5L776.2 268L776.2 263Z"/>
<path fill="#e89c0c" d="M767.5 263.8L776.2 263L776.2 268L778.8 272.5L772.5 271.2L767.5 267.5ZM715.2 268.3L721.4 265.2L725.3 262.9L733 261.3L740.8 260.6L748.6 262.1L756.3 262.9L764.1 261.3L762.5 256.2L761.2 261.2L767.5 263.8L767.5 267.5L772.5 271.2L775 275L770 279.2L759.4 280L750.1 281.5L745.5 284.6L743.9 280.7L739.3 280L733 282.3L726.8 281.5L721.4 280.7L716.7 277.6L714.4 273ZM717.5 264L721.4 265.2L719.1 267.1L717.5 267.1Z"/>
<path fill="#e0670d" d="M774.5 268L780.1 270.7L785.7 269.8L787.5 275.4L794 279.5L801.5 278.2L804.3 275.4L810.8 276.3L820.1 280.1L827.6 284.7L829.4 288.4L827.6 295.9L828.5 303.4L826.6 307.1L831.3 310.8L833.2 316.4L834.1 322.9L823.9 322L816.4 320.1L812.7 316.4L809.9 317.3L804.3 318.3L797.8 314.5L793.1 310.8L789.4 304.3L786.6 302.4L784.7 299.6L780.1 294L777.3 284.7L773.5 277.3Z"/>
<path fill="#e89c0c" d="M758.6 282.9L771.7 280.1L773.5 277.3L777.3 284.7L780.1 294L784.7 299.6L786.6 302.4L783.8 304.8L777.3 305.2L766.1 301.5L758.6 298.7L755.8 295.9L754 291.2L758.6 286.6Z"/>
<path fill="#ffff85" d="M743.7 281.9L751.2 280.1L758.6 282.9L758.6 286.6L754 291.2L747.5 294L742.8 292.2L741.9 286.6ZM742.8 294L747.5 294L754 291.2L755.8 295.9L758.6 298.7L751.2 301.9L742.8 307.1L743.7 299.6Z"/>
<path fill="#e9bb6e" d="M740.9 294L742.8 294L743.7 299.6L742.8 307.1L741.5 301.5Z"/>
<path fill="#ffff85" d="M741.5 289.4L742.8 288.8L742.8 292.2L741.5 293.1Z"/>
<path fill="#e89c0c" d="M783.2 302.4L786.6 302.4L787.5 306.1L784.3 305.2Z"/>
<path fill="#e0670d" d="M742.8 307.1L751.2 301.9L758.6 298.7L766.1 301.5L777.3 305.2L783.8 304.8L787.5 308.9L790.3 314.5L793.1 320.1L795.9 324.8L801.5 327.2L804.3 331.3L811.7 333.2L809.9 339.7L801.5 344.3L792.2 345.3L781 347.1L771.7 345.3L765.2 348.1L758.6 338.8L753 329.4L747.5 318.3Z"/>
<path fill="#ffff85" d="M765.2 348.1L771.7 345.3L781 347.1L792.2 345.3L801.5 344.3L800.6 350.3L795.9 352.2L786.6 355.9L777.3 359.6L769.8 360.6L768 355.5Z"/>
<path fill="#e89c0c" d="M811.7 333.2L813.6 324.2L818.3 327.6L823.3 332.6L820.1 338.8L814.5 344.3L807.1 348.4L800.6 350.3L801.5 344.3L809.9 339.7ZM801.5 327.2L807.1 324.2L811.7 319.8L813.6 324.2L811.7 333.2L804.3 331.3Z"/>
<path fill="#e0670d" d="M796.5 320.1L798.7 319.2L799.3 323.5L797 323.9Z"/>
<path fill="#e89c0c" d="M829.4 288.4L829.4 285.7L836.9 281.9L844.3 278.2L851.8 276.3L859.3 274.5L866.7 272.6L871.4 271.3L876 275L877.5 280.1L870.4 282.5L863 280.6L861.1 282.9L859.3 288.4L855.5 295.9L848.1 301.5L840.6 307.1L831.3 310.8L826.6 307.1L828.5 303.4L827.6 295.9Z"/>
<path fill="#e0670d" d="M831.3 310.8L840.6 307.1L848.1 301.5L855.5 295.9L859.3 288.4L861.1 282.9L863 280.1L863.9 286.6L866.7 292.2L870.4 295.9L876 294L883.5 295L888.1 290.3L887.2 295.9L889.1 303.4L890.9 308.9L898.4 311.7L907.7 314.5L916.1 315.5L918.9 314.5L928.2 314.5L928.2 311.7L937.5 308.9L943.1 309.9L940.3 314.5L935.7 320.1L931.9 325.7L930.1 327.6L928.2 331.3L922.6 327.6L918.9 329.4L915.2 331.3L909.6 335L902.1 340.6L894.7 346.2L889.1 351.8L887.2 361.1L884.4 370.4L880.7 378.8L878.8 376L874.2 366.7L870.4 355.5L866.7 344.3L864.8 336.9L863.9 331.3L861.1 335L855.5 336L853.7 335L854.6 331.3L854.6 328.5L849.9 325.7L842.5 323.9L834.1 322.9L833.2 316.4Z"/>
<path fill="#cfcfcf" d="M863 280.1L870.4 281.9L877.9 284.7L887.2 285.7L888.1 290.3L883.5 295L876 294L870.4 295.9L866.7 292.2L863.9 286.6Z"/>
<path fill="#e9bb6e" d="M889.1 304.3L896.5 305.2L904 309.9L915.2 311.7L916.1 315.5L907.7 314.5L898.4 311.7L890.9 308.9Z"/>
<path fill="#ffff85" d="M918.9 311.2L928.2 311.9L928.2 314.5L918.9 314.5Z"/>
<path fill="#e9bb6e" d="M888.1 375.1L891.9 374.2L894.7 378.8L893.2 384.4L889.1 385L887.6 379.8Z"/>
<path fill="#ffffff" d="M1036 272.5L1034.8 267.5L1041 262.5L1048.5 260L1054.8 258.8L1051 265L1046 270L1042.2 275L1037.2 276.2Z"/>
<path fill="#e9bb6e" d="M1041 275L1047.2 275L1049.8 282.5L1047.2 288.8L1042.2 290L1039.8 283.8ZM1088.5 250L1093.5 247.5L1103.5 252.5L1098.5 257.5L1092.2 260L1088.5 256.2ZM1086 261.2L1089.8 265L1088.5 275L1086 282.5L1078.5 286.2L1071 288.8L1063.5 291.2L1058.5 292.5L1057.2 288.8L1066 285L1076 281.2L1082.2 276.2L1083.5 267.5ZM1052.2 293L1058 292.5L1059 298.8L1053.5 300ZM1062.2 292.5L1068.5 291.2L1069 294.5L1063.5 295.5Z"/>
<path fill="#e89c0c" d="M937 387L945.5 387.5L956.2 396.5L966.5 405.5L974 413L975 423L968.8 424.5L959 417.5L948.5 407.5L941 397.5L936.5 390ZM972.5 426.2L985 427.5L997.5 430L1007.5 432.5L1006.2 435L995 433.8L982.5 431.2L972.5 428.8ZM1008.8 433.8L1020 434.5L1030 435.5L1029.5 438L1018.8 437L1009 436ZM1031.2 436.2L1035.5 435L1035.5 438L1032 439Z"/>
<path fill="#fde4c5" d="M1035.5 435L1039.5 434L1039.5 437L1035.5 438Z"/>
<path fill="#e89c0c" d="M983.8 403.8L992.5 400L1002.5 401.2L1010 400L1013.8 403.8L1011.2 411.2L1006.2 417.5L997.5 419.5L988.8 416.2L983.8 410Z"/>
<path fill="#e9bb6e" d="M992.5 399.5L1002.5 393.8L1012.5 390L1016.2 395L1010 400L1002.5 401.2Z"/>
<path fill="#e89c0c" d="M1017.5 408.8L1020 403.8L1030 401.2L1036.2 401.2L1035 403.8L1025 406.2L1023.8 411.2L1030 412.5L1028.8 415.5L1025 416.2L1028 423.8L1024.5 424.5L1021.2 417.5L1018.8 423.8L1016.2 422.5L1017 413.8ZM1043.8 400.5L1047 400L1047.5 410L1044.5 411ZM1055 408.8L1062.5 407.5L1067.5 412.5L1075 411.2L1087 413.8L1087 435L1080 433.8L1075 427.5L1070 422.5L1063.8 418.8L1060 413.8L1056.2 412.5Z"/>
<path fill="#fde4c5" d="M1087 413.8L1095 416.2L1105 422.5L1110 427.5L1115 433.8L1120 438.8L1112.5 437.5L1105 433.8L1097.5 431.2L1092.5 433.8L1087 435ZM1117.5 425L1126.2 424L1128 426.5L1120 427.5Z"/>
<path fill="#e89c0c" d="M1019.5 345.5L1027 345L1029 351.2L1028.5 358L1027 364L1022.5 362.5L1020 356L1018.5 350ZM1026 364.5L1032 363.8L1038.5 368L1039.5 373.8L1037.5 378L1032.5 378L1028 372.5ZM1029.5 377L1037.5 375L1042.5 379.5L1041.5 387L1034 387.5L1029.5 382ZM1013 373L1020.5 365.5L1021.5 367L1014.5 374.5Z"/>
<path fill="#ffff85" d="M998.8 486.2L1000 480L1006.2 475L1017.5 470L1025 463.8L1031.2 457.5L1037.5 452.5L1045 450L1050 445L1055 443.8L1065 443.8L1072.5 446.2L1071.2 452.5L1076.2 458.8L1082.5 462.5L1087.5 460L1090 450L1092.5 442.5L1096.2 448.8L1100 457.5L1106.2 463.8L1112.5 472.5L1120 482.5L1126.2 492.5L1128.8 502.5L1127.5 512.5L1122.5 522.5L1117.5 530L1112.5 536.2L1105 538.8L1097.5 537.5L1090 533.8L1082.5 528.8L1078.8 522.5L1073.8 525L1067.5 517.5L1055 513.8L1042.5 515L1030 518.8L1020 522.5L1010 523.8L1003.8 521.2L1002.5 512.5L1000 502.5L998 493.8ZM1100.5 547.7L1104.8 548.9L1111.1 545.8L1111.7 552L1108.6 557L1104.8 558.3L1101.7 554.5ZM1193 525.3L1196.8 525.3L1199.3 532.2L1204.2 534.7L1210.4 534.7L1209.2 539.6L1204.2 547.1L1199.3 548.9L1197.4 544.6L1195.5 540.9L1198 537.1L1194.9 530.9ZM1196.8 547.7L1194.3 553.3L1189.3 560.7L1184.3 568.2L1178.1 571.9L1172.5 569.4L1171.9 566.3L1178.1 560.7L1184.3 554.5L1189.3 548.3L1193 546.5Z"/>
<path fill="#fde4c5" d="M1163.8 473.8L1167.5 474.5L1172.5 478L1171.2 479.2L1166.2 477ZM1206.2 463.8L1210 463L1211.2 465.5L1207.5 466.5Z"/>
<path fill="#ffffff" d="M1140 428L1145 429.5L1144.5 431L1139.5 429.5ZM1148.8 433.8L1155 437L1154.2 438.5L1148 435.2ZM1170.5 455L1173 456L1174 460L1171.5 459Z"/>
<path fill="none" stroke="#a9a86a" stroke-width="0.5" d="M913.8 232.5L920 240L925 247.5L940 252.5L955 256.2L970 260L987.5 255L1000 250L1007.5 242.5L1016.2 242.8L1019.2 237L1007.5 234.8L1004.5 229.5"/>
<path fill="none" stroke="#b5b27a" stroke-width="0.4" d="M941.5 310.8L945.2 320.1L944.3 327.6L948 335L947.1 344.3L950.8 351.8L949.9 359.3L951.7 366.7"/>
<path fill="none" stroke="#b5b27a" stroke-width="0.4" d="M948 335L954.5 336L960.1 334.1L965.7 336.9L973.2 333.2L980.6 336"/>
<path fill="none" stroke="#b5b27a" stroke-width="0.4" d="M951.7 351.8L957.3 344.3L962 348.1L967.6 351.8L969.4 359.3L974.1 359.3L976.9 366.7L973.2 373.2"/>
<path fill="none" stroke="#b5b27a" stroke-width="0.4" d="M974.1 359.3L980.6 361.1L984.3 368.6L982.5 377.9"/>
<path fill="none" stroke="#e9a060" stroke-width="0.45" d="M863.9 286.6L868.6 299.6L863 307.1L859.3 314.5L855.5 322L858.3 327.6L854.6 331.3"/>
<path fill="none" stroke="#e9a060" stroke-width="0.45" d="M918.9 318.3L923.5 317.3L926.3 322L930.1 327.6"/>
<path fill="none" stroke="#e9a060" stroke-width="0.45" d="M918.9 318.3L918 323.9L919.8 329.4"/>
</g>
<path id="leaders" d="M456 262L388 332.3M456 269.5L392.2 342.4M456 276.3L405.1 345.3M456 283.3L410.3 345M456 292.5L411.3 344.5M456 301.3L416.3 345.3M456 308L416.3 345.7M456 314.5L416.3 346M456 320.5L417 346.4M456 326.3L416.5 347.8M456 331.3L417.4 348.5M456 336.8L420.3 349.2M456 342.5L419 350.6M456 347.5L421.3 352.4M456 352.5L421.9 355.3M456 357.8L422.9 358.2M456 363L422.9 360.7M456 368L427.7 363.2M456 372.8L422.3 363.2M456 377.5L420.6 367.2M456 384.5L421.9 372.9" fill="none" stroke="#7f93a8" stroke-width="0.35" opacity="0.7"/>
<g id="labels">
<text x="487" y="140.3">Greenland</text>
<text x="567" y="152.2" class="s">Iceland</text>
<text x="606" y="170.8" class="s">Faroe Islands</text>
<text x="450" y="239" class="s">Saint Pierre and Miquelon</text>
<text x="458" y="263.5" class="s">Turks and Caicos Islands</text>
<text x="458" y="271" class="s">Dominican Republic</text>
<text x="458" y="277.8" class="s">Puerto Rico</text>
<text x="458" y="284.8" class="s">United States Virgin Islands</text>
<text x="458" y="294" class="s">British Virgin Islands</text>
<text x="394.5" y="295.3" class="s">Bermuda</text>
<text x="457.5" y="302.8" class="s">Anguilla</text>
<text x="457.5" y="309.5" class="s">Saint Martin</text>
<text x="457.5" y="316" class="s">Sint Maarten</text>
<text x="457.5" y="322" class="s">Saint Barthélemy</text>
<text x="457.5" y="327.8" class="s">Bonaire, Sint Eustatius and Saba</text>
<text x="457.5" y="332.8" class="s">Saint Kitts and Nevis</text>
<text x="457.5" y="338.3" class="s">Antigua and Barbuda</text>
<text x="457.5" y="344" class="s">Montserrat</text>
<text x="457.5" y="349" class="s">Guadeloupe</text>
<text x="457.5" y="354" class="s">Dominica</text>
<text x="457.5" y="359.3" class="s">Martinique</text>
<text x="457.5" y="364.5" class="s">Saint Lucia</text>
<text x="457.5" y="369.5" class="s">Barbados</text>
<text x="457.5" y="374.3" class="s">Saint Vincent and the Grenadines</text>
<text x="457.5" y="379" class="s">Grenada</text>
<text x="457.5" y="386" class="s">Trinidad and Tobago</text>
<text x="454.5" y="394" class="s">French Guiana</text>
<text x="512" y="354.5" class="s">Cabo Verde</text>
<text x="372.5" y="315.8" class="s">Bahamas</text>
<text x="347.5" y="329" class="s">Cuba</text>
<text x="341" y="339" class="s">Cayman Islands</text>
<text x="338.8" y="346.5" class="s">Belize</text>
<text x="340" y="353.3" class="s">Honduras</text>
<text x="378" y="344" class="s">Haiti</text>
<text x="365.5" y="350.3" class="s">Jamaica</text>
<text x="301" y="359.8" class="s">Guatemala</text>
<text x="304.5" y="367.3" class="s">El Salvador</text>
<text x="354" y="364.8" class="s">Nicaragua</text>
<text x="384.5" y="362.3" class="s">Aruba</text>
<text x="330.5" y="377" class="s">Costa Rica</text>
<text x="367" y="372.3">Panama</text>
<text x="360" y="384.5">Venezuela (Bolivarian Republic of)</text>
<text x="414.5" y="391">Guyana</text>
<text x="436" y="397.3">Suriname</text>
<text x="378" y="398.5">Colombia</text>
<text x="363" y="412">Ecuador</text>
<text x="281" y="322.8">Mexico</text>
<text x="271" y="187.8">Canada</text>
<text x="269" y="267.3" class="w">United States of America</text>
<text x="374.8" y="433.1">Peru</text>
<text x="444" y="438.1" class="w">Brazil</text>
<text x="394.5" y="460.3">Bolivia (Plurinational State of)</text>
<text x="421.5" y="480.5">Paraguay</text>
<text x="432" y="515.3">Uruguay</text>
<text x="405.6" y="524.5">Argentina</text>
<text x="386" y="531.5">Chile</text>
<text x="433.8" y="589.8" class="s">Falkland Islands (Malvinas)</text>
<text x="139" y="462" class="s">French Polynesia</text>
<text x="593.3" y="407" class="s">Sao Tome and Principe</text>
<text x="799.7" y="424.7" class="s">Seychelles</text>
<text x="758" y="443.3" class="s">Comoros</text>
<text x="776" y="446.3" class="s">Mayotte</text>
<text x="771" y="469.7">Madagascar</text>
<text x="809.7" y="473.8" class="s">Réunion</text>
<text x="817.8" y="480.2" class="s">Mauritius</text>
<text x="738" y="466.5">Mozambique</text>
<text x="731" y="492.3" class="s">Eswatini</text>
<text x="722" y="502.8">Lesotho</text>
<text x="695.7" y="500.8">South Africa</text>
<text x="697.7" y="479.8">Botswana</text>
<text x="673.5" y="474.2">Namibia</text>
<text x="713.9" y="469.7">Zimbabwe</text>
<text x="678" y="446.9">Angola</text>
<text x="720" y="448.9">Zambia</text>
<text x="741" y="447.9">Malawi</text>
<text x="731" y="433.2">United Republic of Tanzania</text>
<text x="663.4" y="423.7">Democratic Republic of the Congo</text>
<text x="725" y="418.7">Burundi</text>
<text x="727" y="411.2">Rwanda</text>
<text x="724" y="404.5">Uganda</text>
<text x="656" y="414">Gabon</text>
<text x="672.9" y="409.2">Congo</text>
<text x="663" y="401.5">Equatorial Guinea</text>
<text x="744.7" y="400.9">Kenya</text>
<text x="786" y="384.4" class="s">Somalia</text>
<text x="758.8" y="374.7">Ethiopia</text>
<text x="767.9" y="364.2" class="s">Djibouti</text>
<text x="745.7" y="354.1" class="s">Eritrea</text>
<text x="711" y="379.9">South Sudan</text>
<text x="679.5" y="389.2">Central African Republic</text>
<text x="661.5" y="380.3">Cameroon</text>
<text x="646.8" y="369.8">Nigeria</text>
<text x="689.8" y="352.5">Chad</text>
<text x="727" y="350.6">Sudan</text>
<text x="659.3" y="346">Niger</text>
<text x="617" y="346">Mali</text>
<text x="579.6" y="344">Mauritania</text>
<text x="572.5" y="355.1">Senegal</text>
<text x="560" y="362.1" class="s">Gambia</text>
<text x="561" y="366.2" class="s">Guinea-Bissau</text>
<text x="593" y="368.8">Guinea</text>
<text x="611.5" y="363.2">Burkina Faso</text>
<text x="630" y="372.5">Benin</text>
<text x="628.6" y="383.3">Togo</text>
<text x="565" y="379.9" class="s">Sierra Leone</text>
<text x="594.7" y="378.3">Côte d'Ivoire</text>
<text x="611.5" y="386.4">Ghana</text>
<text x="585.8" y="388.8" class="s">Liberia</text>
<text x="637.7" y="309.7">Algeria</text>
<text x="687.6" y="313.1">Libya</text>
<text x="725.9" y="315.3">Egypt</text>
<text x="755.4" y="323.4">Saudi Arabia</text>
<text x="607.8" y="295.9">Morocco</text>
<text x="660" y="288" class="s">Tunisia</text>
<text x="675.6" y="285.8" class="s">Malta</text>
<text x="611" y="285.8" class="s">Gibraltar</text>
<text x="699.7" y="279.1" class="s">Greece</text>
<text x="719" y="291.3" class="s">Cyprus</text>
<text x="704.3" y="297.8" class="s">occupied Palestinian territory</text>
<text x="731.6" y="305.5">Israel</text>
<text x="750" y="295">Jordan</text>
<text x="734.6" y="283.8">Syrian Arab Republic</text>
<text x="744" y="290.8" class="s">Lebanon</text>
<text x="744" y="269.5">Turkey</text>
<text x="758" y="260" class="s">Georgia</text>
<text x="709" y="259.7" class="s">Bulgaria</text>
<text x="681.8" y="273.2" class="s">Albania</text>
<text x="685" y="263.9" class="s">Montenegro</text>
<text x="685.7" y="269.4" class="s">North Macedonia</text>
<text x="676.4" y="259.7" class="s">Kosovo</text>
<text x="681" y="255.1" class="s">Serbia</text>
<text x="671.7" y="247.8" class="s">Bosnia and Herzegovina</text>
<text x="664" y="252" class="s">Croatia</text>
<text x="677" y="243.2">Slovenia</text>
<text x="696.6" y="243.4">Romania</text>
<text x="691.9" y="238.3">Hungary</text>
<text x="718.3" y="238.8">Republic of Moldova</text>
<text x="731.5" y="229.1">Ukraine</text>
<text x="672.5" y="230.2">Czechia</text>
<text x="691.9" y="230.5">Slovakia</text>
<text x="664.7" y="234.9">Austria</text>
<text x="648.4" y="239.1">Liechtenstein</text>
<text x="640.6" y="244.2">Switzerland</text>
<text x="628.7" y="239.9">France</text>
<text x="662.4" y="220.1">Germany</text>
<text x="627.5" y="226.3">Belgium</text>
<text x="646.9" y="226.3">Luxembourg</text>
<text x="630" y="212.7" class="s">Netherlands</text>
<text x="692.7" y="215.5">Poland</text>
<text x="720.6" y="208.8">Belarus</text>
<text x="598.7" y="229.5" class="s">Guernsey</text>
<text x="597" y="234.9" class="s">Jersey</text>
<text x="609.6" y="260.5">Spain</text>
<text x="587.4" y="265.9" class="s">Portugal</text>
<text x="624.3" y="265.2" class="s">Andorra</text>
<text x="638" y="261" class="s">Monaco</text>
<text x="650.7" y="256.5" class="s">San Marino</text>
<text x="660.8" y="261" class="s">Italy</text>
<text x="652" y="266.7" class="s">Holy See</text>
<text x="666" y="160">Norway</text>
<text x="684" y="167.5">Sweden</text>
<text x="714" y="159.5">Finland</text>
<text x="695" y="185.9" class="s">Estonia</text>
<text x="709.8" y="194">Latvia</text>
<text x="691" y="201.5" class="s">Lithuania</text>
<text x="660.8" y="198.4" class="s">Denmark</text>
<text x="600" y="200.7" class="s">The United Kingdom</text>
<text x="586" y="209.5" class="s">Ireland</text>
<text x="603" y="209.5" class="s">Isle of Man</text>
<text x="945" y="171">Russian Federation</text>
<text x="848.8" y="232.3">Kazakhstan</text>
<text x="965.8" y="238.3">Mongolia</text>
<text x="968.8" y="279">China</text>
<text x="817.5" y="257.8">Uzbekistan</text>
<text x="862.5" y="265.3">Kyrgyzstan</text>
<text x="851.3" y="274">Tajikistan</text>
<text x="772.5" y="266" class="s">Azerbaijan</text>
<text x="761" y="270.3">Armenia</text>
<text x="776" y="291.5">Iran (Islamic Republic of)</text>
<text x="827.5" y="299">Afghanistan</text>
<text x="840" y="313.5">Pakistan</text>
<text x="888.5" y="327.5">India</text>
<text x="903" y="308.9">Nepal</text>
<text x="924.5" y="312.3">Bhutan</text>
<text x="923.5" y="324.5">Bangladesh</text>
<text x="944" y="333.4">Myanmar</text>
<text x="907" y="342.7" class="s">Lao People's Democratic Republic</text>
<text x="958" y="353.3">Thailand</text>
<text x="976" y="348.5" class="s">Viet Nam</text>
<text x="972" y="361.3" class="s">Cambodia</text>
<text x="892.8" y="378.5" class="s">Sri Lanka</text>
<text x="868" y="392.5" class="s">Maldives</text>
<text x="783.8" y="305.5">Kuwait</text>
<text x="782" y="317.5">Bahrain</text>
<text x="795" y="323.5" class="s">Qatar</text>
<text x="790" y="331.3">United Arab Emirates</text>
<text x="804" y="344">Oman</text>
<text x="784" y="351.5">Yemen</text>
<text x="770" y="303">Iraq</text>
<text x="1030" y="364.5" class="s">Philippines</text>
<text x="1080.9" y="275.5" class="s">Japan</text>
<text x="1020.7" y="292.2" class="s">Republic of Korea</text>
<text x="1003.8" y="388.5" class="s">Brunei Darussalam</text>
<text x="999.5" y="396" class="s">Malaysia</text>
<text x="968.8" y="399" class="s">Singapore</text>
<text x="999.5" y="406.5">Indonesia</text>
<text x="1040" y="432.8" class="s">Timor-Leste</text>
<text x="1103.8" y="424.8" class="s">Papua New Guinea</text>
<text x="1068.8" y="489.5">Australia</text>
<text x="1196" y="464" class="s">Fiji</text>
<text x="1177" y="482.8" class="s">New Caledonia</text>
<text x="1167" y="556" class="s">New Zealand</text>
<text x="1104" y="349" class="s">Northern Mariana Islands (Commonwealth of the)</text>
<text x="1104" y="358.5" class="s">Guam</text>
</g>
</svg>
</div>

<!-- legend -->
<div class="abs" id="lgt" style="left:797.5px;top:528.4px;font-size:12.3px;line-height:15px;font-weight:bold;color:#111;letter-spacing:0.1px;">Cases reported in the last 7 days</div>
<div class="sw" style="top:554.2px;height:18.6px;background:#fefe7e;"></div>
<div class="sw" style="top:572.8px;height:20.8px;background:#e8bb70;"></div>
<div class="sw" style="top:593.6px;height:19.8px;background:#e79a0c;"></div>
<div class="sw" style="top:613.4px;height:19.9px;background:#e0680f;"></div>
<div class="sw" style="top:633.3px;height:18.8px;background:#9c3e05;"></div>
<div class="sw" style="top:657.1px;height:18px;background:#fde3c3;"></div>
<div class="sw" style="top:679.4px;height:17.6px;background:#fffefc;"></div>
<div class="abs lg" style="left:841px;top:557.1px;">1 - 100</div>
<div class="abs lg" style="left:841px;top:577.2px;">101 - 1000</div>
<div class="abs lg" style="left:841px;top:597.2px;">1001 - 10000</div>
<div class="abs lg" style="left:841px;top:617.2px;">10001 - 100000</div>
<div class="abs lg" style="left:841px;top:637.2px;">&gt;100000</div>
<div class="abs lg t" style="left:841px;top:660.3px;">No cases reported in the last 7 days</div>
<div class="abs lg t" style="left:841px;top:682.8px;">No reported cases</div>

<!-- bottom strip -->
<div class="abs src" style="left:62px;top:713.2px;letter-spacing:0.12px;"><b>Data Source</b>: World Health Organization</div>
<div class="abs src" style="left:62px;top:726.4px;letter-spacing:-0.09px;"><b>Map Production</b>: WHO Health Emergencies Programme</div>
<div style="position:absolute;left:364px;top:725px;width:40px;height:20px;background:#cdcdcd;"></div>
<div class="abs" id="na" style="left:416.8px;top:728.2px;font-size:13.3px;letter-spacing:0.42px;line-height:16px;font-weight:normal;-webkit-text-stroke:0.45px #2b2b2b;color:#2b2b2b;">Not applicable</div>

<div style="position:absolute;left:565.4px;top:731px;width:146.2px;height:4px;background:#111;"></div>
<div style="position:absolute;left:582.7px;top:731.8px;width:18.4px;height:2.4px;background:#f4f4f4;"></div>
<div style="position:absolute;left:619.8px;top:731.8px;width:19px;height:2.4px;background:#f4f4f4;"></div>
<div class="abs" style="left:554.9px;top:720.4px;width:20px;text-align:center;font-size:8.6px;line-height:9px;color:#606060;">0</div>
<div class="abs" style="left:618.4px;top:720.4px;width:40px;text-align:center;font-size:8.6px;line-height:9px;color:#606060;">2,500</div>
<div class="abs" style="left:691.8px;top:720.4px;width:40px;text-align:center;font-size:8.6px;line-height:9px;color:#606060;">5,000</div>
<div class="abs" style="left:716.5px;top:729.5px;font-size:6.8px;line-height:7px;color:#666;">km</div>
<div class="abs" id="cpy" style="left:536.3px;top:739.4px;font-size:10.3px;line-height:12px;color:#444;transform:scaleX(0.9);">&copy; World Health Organization&nbsp; 2020,&nbsp; All rights reserved.</div>

<div class="abs dis" id="d1" style="left:792.5px;top:706.9px;width:425px;">The boundaries and names shown and the designations used on this map do not imply the expression of any</div>
<div class="abs dis" id="d2" style="left:792.5px;top:719.9px;">opinion whatsoever on the part of the World Health Organization concerning the legal status of any country,</div>
<div class="abs dis" id="d3" style="left:792.5px;top:732.4px;">territory, city or area or of its authorities, or concerning the delimitation of its frontiers or boundaries. Dotted</div>
<div class="abs dis" id="d4" style="left:792.5px;top:745.4px;width:430px;">and dashed lines on maps represent approximate border lines for which there may not yet be full agreement.</div>

<div id="foot" class="abs">**See <span>Annex 1</span> for data, table and figure notes.</div>
</body>
</html>
